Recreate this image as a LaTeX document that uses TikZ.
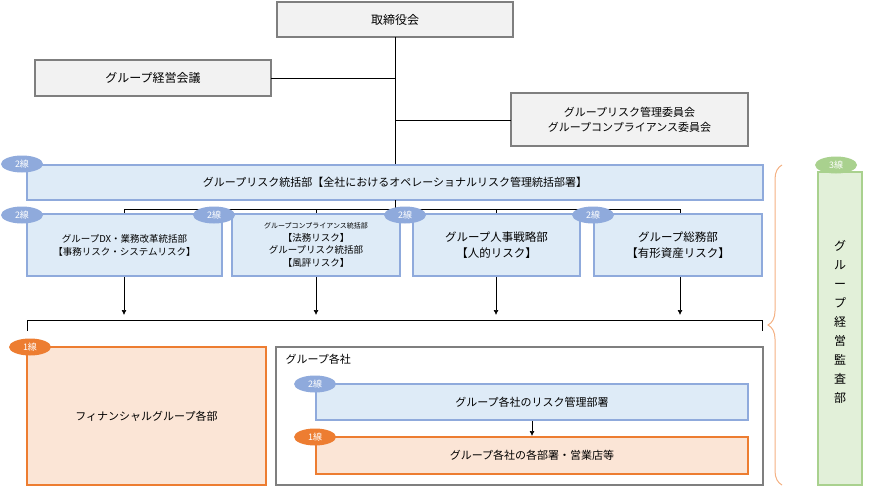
\documentclass[tikz,border=0pt]{standalone}
\usepackage{fontspec}
\setmainfont{Noto Sans CJK JP}
\usetikzlibrary{decorations.pathreplacing,shapes.geometric,arrows.meta}
\definecolor{gfill}{HTML}{F2F2F2}
\definecolor{gbord}{HTML}{7F7F7F}
\definecolor{bfill}{HTML}{DEEBF7}
\definecolor{bbord}{HTML}{8FAADC}
\definecolor{ofill}{HTML}{FBE5D6}
\definecolor{obord}{HTML}{ED7D31}
\definecolor{grfill}{HTML}{E2F0D9}
\definecolor{grbord}{HTML}{A9D18E}
\definecolor{brc}{HTML}{F4B183}
\begin{document}
\begin{tikzpicture}[x=1pt,y=-1pt,
  box/.style={draw=gbord,line width=2.2pt,fill=gfill},
  bbox/.style={draw=bbord,line width=2.2pt,fill=bfill},
  obox/.style={draw=obord,line width=2.2pt,fill=ofill},
  badge/.style={ellipse,inner sep=0pt,minimum width=42pt,minimum height=17pt,text=white,font=\fontsize{9}{10}\selectfont},
  ln/.style={draw=black,line width=0.7pt},
  arr/.style={ln,-{Latex[length=5pt,width=5pt]}}]
\useasboundingbox (0,0) rectangle (874,487);
\draw[box] (277,2) rectangle (513,37); \node (tr) at (395,19.5) {\fontsize{12}{15}\selectfont 取締役会};
\draw[box] (35,60) rectangle (271,96); \node (kk) at (153,78) {\fontsize{12}{15}\selectfont グループ経営会議};
\draw[box] (511,93) rectangle (748,146); \node[align=center,font=\fontsize{11}{15}\selectfont] (iin) at (629.5,119.5) {グループリスク管理委員会\\グループコンプライアンス委員会};
\coordinate (c1) at (395,78); \coordinate (c2) at (395,120);
\draw[ln] (395,37) -- (395,165);
\draw[ln] (271,78) -- (c1);
\draw[ln] (c2) -- (511,120);
\draw[bbox] (27,165) rectangle (763,200);
\node[font=\fontsize{11}{15}\selectfont] (big) at (395,182.5) {グループリスク統括部【全社におけるオペレーショナルリスク管理統括部署】};
\node[badge,fill=bbord] (b0) at (22,164) {2線};
\draw[ln] (395,200) -- (395,209);
\draw[ln] (124,214) -- (124,209) -- (680,209) -- (680,214);
\draw[ln] (316,209) -- (316,214); \draw[ln] (496,209) -- (496,214);
\draw[bbox] (27,214) rectangle (222,276);
\node[align=center,font=\fontsize{9.5}{13}\selectfont] (d1) at (124.5,245) {グループDX・業務改革統括部\\【事務リスク・システムリスク】};
\draw[bbox] (232,214) rectangle (400,276);
\node[align=center,font=\fontsize{9.5}{12.5}\selectfont] (d2) at (316,245) {{\fontsize{7}{8}\selectfont グループコンプライアンス統括部}\\【法務リスク】\\グループリスク統括部\\【風評リスク】};
\draw[bbox] (413,214) rectangle (580,276);
\node[align=center,font=\fontsize{11.5}{16}\selectfont] (d3) at (496.5,245) {グループ人事戦略部\\【人的リスク】};
\draw[bbox] (594,214) rectangle (762,276);
\node[align=center,font=\fontsize{11.5}{16}\selectfont] (d4) at (678,245) {グループ総務部\\【有形資産リスク】};
\node[badge,fill=bbord] at (22,215) {2線};
\node[badge,fill=bbord] at (214,215) {2線};
\node[badge,fill=bbord] at (405,215) {2線};
\node[badge,fill=bbord] at (593,215) {2線};
\foreach \x in {124,316,496,680} \draw[arr] (\x,277) -- (\x,315);
\draw[ln] (27,331) -- (27,320) -- (762,320) -- (762,331);
\draw[obox] (27,347) rectangle (266,485);
\node[font=\fontsize{11}{15}\selectfont] (fin) at (146.5,416) {フィナンシャルグループ各部};
\node[badge,fill=obord] at (30,347) {1線};
\draw[draw=gbord,line width=2.2pt,fill=white] (276,347) rectangle (763,485);
\node[anchor=west,font=\fontsize{11}{15}\selectfont] (gk) at (282,359) {グループ各社};
\draw[bbox] (316,384) rectangle (748,420);
\node[font=\fontsize{11}{15}\selectfont] (r2) at (532,402) {グループ各社のリスク管理部署};
\node[badge,fill=bbord] at (315,384) {2線};
\draw[obox] (316,437) rectangle (748,474);
\node[font=\fontsize{11}{15}\selectfont] (r1) at (532,455.5) {グループ各社の各部署・営業店等};
\node[badge,fill=obord] at (315,437) {1線};
\draw[arr] (532,421) -- (532,436);
\draw[brc,line width=1pt,decorate,decoration={brace,amplitude=14pt,mirror}] (782,165) -- (782,485);
\draw[draw=grbord,line width=2.2pt,fill=grfill] (818,172) rectangle (862,485);
\node[align=center,font=\fontsize{12}{19}\selectfont] (kan) at (840,322) {グ\\ル\\ー\\プ\\経\\営\\監\\査\\部};
\node[badge,fill=grbord] at (836,165) {3線};
\end{tikzpicture}
\end{document}
